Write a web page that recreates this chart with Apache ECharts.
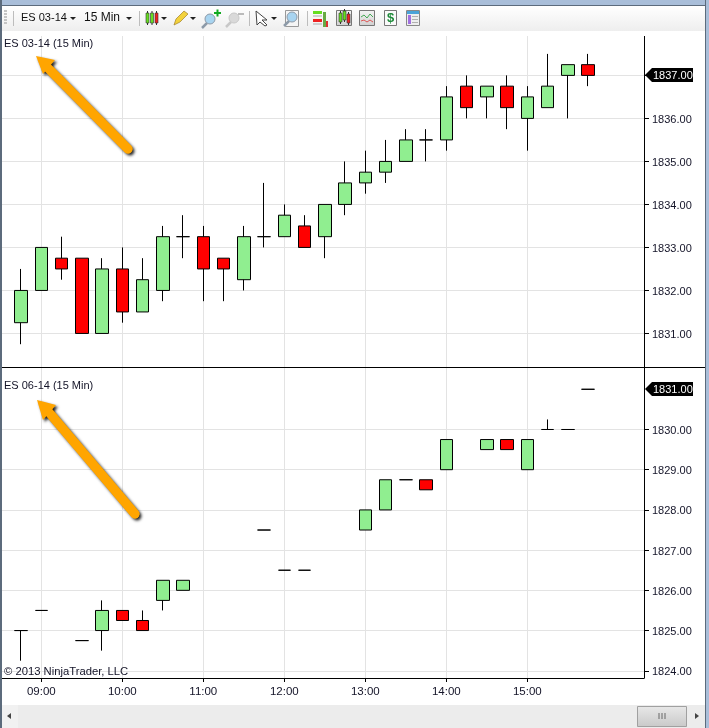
<!DOCTYPE html>
<html><head><meta charset="utf-8">
<style>html,body{margin:0;padding:0;background:#fff;overflow:hidden}#c{width:709px;height:728px}</style>
<script src="https://cdn.jsdelivr.net/npm/echarts@6/dist/echarts.min.js"></script>
</head><body><div id="c"></div>
<script>
const times = ['08:45','09:00','09:15','09:30','09:45','10:00','10:15','10:30','10:45','11:00','11:15','11:30','11:45','12:00','12:15','12:30','12:45','13:00','13:15','13:30','13:45','14:00','14:15','14:30','14:45','15:00','15:15','15:30','15:45'];
const open1 = [1831.25,1832,1832.75,1832.75,1831,1832.5,1831.5,1832,1833.25,1833.25,1832.75,1832.25,1833.25,1833.25,1833.5,1833.25,1834,1834.5,1834.75,1835,1835.5,1835.5,1836.75,1836.5,1836.75,1836,1836.25,1837,1837.25];
const close1 = [1832,1833,1832.5,1831,1832.5,1831.5,1832.25,1833.25,1833.25,1832.5,1832.5,1833.25,1833.25,1833.75,1833,1834,1834.5,1834.75,1835,1835.5,1835.5,1836.5,1836.25,1836.75,1836.25,1836.5,1836.75,1837.25,1837];
const low1 = [1830.75,1832,1832.25,1831,1831,1831.25,1831.5,1831.75,1832.75,1831.75,1831.75,1832,1833,1833.25,1833,1832.75,1833.75,1834.25,1834.5,1835,1835,1835.25,1836,1836,1835.75,1835.25,1836.25,1836,1836.75];
const high1 = [1832.5,1833,1833.25,1832.75,1832.75,1833,1832.75,1833.5,1833.75,1833.5,1832.75,1833.5,1834.5,1834,1833.75,1834,1835,1835.25,1835.5,1835.75,1835.75,1836.75,1837,1836.75,1837,1836.75,1837.5,1837.25,1837.5];
const open2 = [1825,1825.5,null,1824.75,1825,1825.5,1825.25,1825.75,1826,null,null,null,1827.5,1826.5,1826.5,null,null,1827.5,1828,1828.75,1828.75,1829,null,1829.5,1829.75,1829,1830,1830,1831];
const close2 = [1825,1825.5,null,1824.75,1825.5,1825.25,1825,1826.25,1826.25,null,null,null,1827.5,1826.5,1826.5,null,null,1828,1828.75,1828.75,1828.5,1829.75,null,1829.75,1829.5,1829.75,1830,1830,1831];
const low2 = [1824.25,1825.5,null,1824.75,1824.5,1825.25,1825,1825.5,1826,null,null,null,1827.5,1826.5,1826.5,null,null,1827.5,1828,1828.75,1828.5,1829,null,1829.5,1829.5,1829,1830,1830,1831];
const high2 = [1825,1825.5,null,1824.75,1825.75,1825.5,1825.5,1826.25,1826.25,null,null,null,1827.5,1826.5,1826.5,null,null,1828,1828.75,1828.75,1828.75,1829.75,null,1829.75,1829.75,1829.75,1830.25,1830,1831];
const timeTicks = ['09:00','10:00','11:00','12:00','13:00','14:00','15:00'];
const yTicks1 = [1831,1832,1833,1834,1835,1836,1837];
const yLabels1 = [1831,1832,1833,1834,1835,1836];
const yTicks2 = [1824,1825,1826,1827,1828,1829,1830];
const last1 = 1837, last2 = 1831;
const title1 = 'ES 03-14 (15 Min)', title2 = 'ES 06-14 (15 Min)';
const copyright = '© 2013 NinjaTrader, LLC';

const FONT = '"Liberation Sans", Arial, sans-serif';
const toMin = s => { const p = s.split(':'); return +p[0]*60 + +p[1]; };
const toLabel = m => String(Math.floor(m/60)).padStart(2,'0') + ':' + String(Math.round(m%60)).padStart(2,'0');
const build = (o,c,l,h) => times.map((t,i)=> o[i]===null ? null : [toMin(t),o[i],c[i],l[i],h[i]]).filter(Boolean);
const GRID = '#e3e3e3';
const xAxis = (idx, show) => ({
  type:'value', gridIndex:idx, min:510.89, max:986.44, scale:true,
  axisLine:{show:true,onZero:false,lineStyle:{color:'#000',width:1}},
  axisTick:{show:show,length:4,customValues:timeTicks.map(toMin),lineStyle:{color:'#000'}},
  axisLabel:{show:show,customValues:timeTicks.map(toMin),formatter:toLabel,color:'#141428',fontFamily:FONT,fontSize:11.5,margin:8,showMinLabel:true,showMaxLabel:true},
  splitLine:{show:true,lineStyle:{color:GRID,width:1}}
});
const yAxis = (idx,min,max,ticks,labels) => ({
  type:'value', gridIndex:idx, position:'right', min, max, scale:true,
  axisLine:{show:true,onZero:false,lineStyle:{color:'#000',width:1}},
  axisTick:{show:true,length:5,customValues:ticks,lineStyle:{color:'#000'}},
  axisLabel:{show:true,customValues:labels,formatter:v=>'{p|'+v.toFixed(2)+'}',margin:8,showMinLabel:true,showMaxLabel:true,
    rich:{p:{color:'#141428',fontFamily:FONT,fontSize:11,padding:[3,0,0,0]}}},
  splitLine:{show:true,lineStyle:{color:GRID,width:1}}
});
const candle = (idx,data) => ({
  type:'candlestick', xAxisIndex:idx, yAxisIndex:idx, data, encode:{x:0,y:[1,2,3,4]},
  barWidth:13,
  itemStyle:{color:'#90EE90',color0:'#FF0000',borderColor:'#000',borderColor0:'#000',borderColorDoji:'#000',borderWidth:1}
});

const chart = echarts.init(document.getElementById('c'),null,{renderer:'canvas'});
chart.setOption({
  animation:false, backgroundColor:'#fff',
  title:[
    {text:title1,left:4,top:38,padding:0,textStyle:{fontFamily:FONT,fontSize:11,fontWeight:'normal',color:'#141428'}},
    {text:title2,left:4,top:380,padding:0,textStyle:{fontFamily:FONT,fontSize:11,fontWeight:'normal',color:'#141428'}}
  ],
  grid:[{left:2,top:36,width:642,height:331},{left:2,top:367,width:642,height:311}],
  xAxis:[xAxis(0,false),xAxis(1,true)],
  yAxis:[yAxis(0,1830.22,1837.916,yTicks1,yLabels1),yAxis(1,1823.82,1831.554,yTicks2,yTicks2)],
  series:[candle(0,build(open1,close1,low1,high1)),candle(1,build(open2,close2,low2,high2))]
});

// Window chrome, toolbar, annotations
const g = [];
const rect=(x,y,w,h,fill,extra)=>g.push(Object.assign({type:'rect',shape:{x,y,width:w,height:h},style:{fill},silent:true,z:50},extra||{}));
const poly=(pts,fill,extra)=>g.push(Object.assign({type:'polygon',shape:{points:pts},style:{fill},silent:true,z:52},extra||{}));
const line=(x1,y1,x2,y2,stroke,w)=>g.push({type:'line',shape:{x1,y1,x2,y2},style:{stroke,lineWidth:w||1},silent:true,z:52});
const text=(x,y,t,fill,size,extra)=>g.push(Object.assign({type:'text',x,y,style:{text:t,fill,fontFamily:FONT,fontSize:size||11,verticalAlign:'middle'},silent:true,z:53},extra||{}));
const vgrad=(a,b)=>({type:'linear',x:0,y:0,x2:0,y2:1,colorStops:[{offset:0,color:a},{offset:1,color:b}]});

rect(0,0,709,5,'#a9bed9');
rect(0,5,709,1,'#5c6b7c');
rect(0,6,705,25,vgrad('#ffffff','#eeeeee'));
rect(0,31,705,5,'#ffffff');
rect(0,0,2,728,'#5c6b7c');
rect(705,0,1,728,'#5c6b7c');
rect(706,0,3,728,'#a9bed9');
rect(2,705,703,23,'#ececec');
rect(2,705,16,23,'#f1f1f1');
poly([[7,716],[11,713],[11,719]],'#444');
rect(637.5,706.5,49,20,vgrad('#e8e8e8','#c9c9c9'),{style:{fill:vgrad('#e8e8e8','#c9c9c9'),stroke:'#a0a0a0',lineWidth:1}});
[659,662,665].forEach(x=>line(x,713,x,719,'#666'));
poly([[695,713],[699,716],[695,719]],'#444');
line(2,367.5,705,367.5,'#000');

// toolbar
[10,13,16,19,22].forEach(y=>rect(4,y,3,2,'#c4c4c4'));
[13,139,249,307].forEach(x=>line(x+.5,11,x+.5,26,'#bdbdbd'));
text(21,18,'ES 03-14','#111',11);
text(84,18,'15 Min','#111',12);
[73,129,164,193,274].forEach(x=>poly([[x-3,17],[x+3,17],[x,20]],'#222'));
const mini=(x,y,h,fill)=>{line(x+1.5,y-2,x+1.5,y+h+2,'#333');rect(x,y,3,h,fill,{z:53,style:{fill,stroke:'#333',lineWidth:.6}});};
mini(146,13,10,'#66dd22');mini(150.5,13,10,'#66dd22');mini(155,13,10,'#ee2222');
// pencil
poly([[174,25],[176,19],[184,11],[188,14],[180,22]],'#f3d23c',{style:{fill:'#f3d23c',stroke:'#a0802a',lineWidth:.7}});
// magnifiers
const mag=(cx,cy,col,ring)=>{line(cx-3,cy+4,cx-8,cy+9,ring,2.5);g.push({type:'circle',shape:{cx,cy,r:5},style:{fill:col,stroke:ring,lineWidth:1},silent:true,z:53});};
mag(210,19,'#a8d4f0','#8d9aa8');rect(214,12,7,2,'#11aa22',{z:54});rect(216.5,9.5,2,7,'#11aa22',{z:54});
mag(234,18,'#d9d9d9','#c8c8c8');rect(238,13,6,2,'#bbbbbb',{z:54});
// cursor
poly([[256,11],[267,20],[262,20],[267,25],[265,26],[260,22],[257,25]],'#ffffff',{style:{fill:'#fff',stroke:'#444',lineWidth:1}});
// magnifier doc
rect(285.5,10.5,13,16,'#f5f5f5',{style:{fill:'#f5f5f5',stroke:'#999',lineWidth:1},z:52});
mag(292,17,'#a8d4f0','#8d9aa8');
// strategy icon
rect(313,11,9,3,'#66dd22');rect(313,19,9,3,'#ee2222');rect(323,12,3,15,'#66aa44');rect(326,21,2,6,'#dd3333');
[16,24].forEach(y=>line(313,y,322,y,'#aaa'));
// chart icons
const box=(x,w)=>rect(x+.5,10.5,w,15,vgrad('#f4f4f4','#cfcfcf'),{style:{fill:vgrad('#f4f4f4','#cfcfcf'),stroke:'#777',lineWidth:1},z:52});
box(336,15);mini(339,13,9,'#66dd22');mini(343,11,9,'#66dd22');mini(347,14,9,'#ee2222');
box(359,15);
g.push({type:'polyline',shape:{points:[[361,17],[364,15],[367,18],[370,14],[373,17]]},style:{stroke:'#44aa55',fill:null,lineWidth:1},silent:true,z:53});
g.push({type:'polyline',shape:{points:[[361,21],[364,20],[367,22],[370,20],[373,22]]},style:{stroke:'#dd5555',fill:null,lineWidth:1},silent:true,z:53});
rect(384.5,10.5,12,15,'#fafafa',{style:{fill:'#fafafa',stroke:'#777',lineWidth:1},z:52});
text(387,18.5,'$','#1e8a3a',13,{style:{text:'$',fill:'#1e8a3a',fontFamily:FONT,fontSize:13,fontWeight:'bold',verticalAlign:'middle'}});
rect(406.5,10.5,13,15,'#eeeeee',{style:{fill:'#eeeeee',stroke:'#888',lineWidth:1},z:52});
rect(407,11,12,3,'#4aa3d8',{z:53});rect(408,15,3,9,'#a070e0',{z:53});
[16,19,22].forEach(y=>line(412,y+.5,418,y+.5,'#b0b0b0'));

// arrows
const arrow=(tip,a,b,base,tail)=>{
  const shadow={shadowColor:'rgba(0,0,0,.85)',shadowBlur:3,shadowOffsetX:2,shadowOffsetY:2};
  g.push({type:'line',shape:{x1:base[0],y1:base[1],x2:tail[0],y2:tail[1]},style:Object.assign({stroke:'#FFA500',lineWidth:9,lineCap:'round'},shadow),silent:true,z:60});
  g.push({type:'polygon',shape:{points:[tip,a,b]},style:Object.assign({fill:'#FFA500'},shadow),silent:true,z:60});
  g.push({type:'line',shape:{x1:base[0],y1:base[1],x2:tail[0],y2:tail[1]},style:{stroke:'#FFA500',lineWidth:9,lineCap:'round'},silent:true,z:61});
};
arrow([36,56],[55,60],[43,74],[46,66],[128,149]);
arrow([37,400],[56,405],[43,420],[47,410],[135,514]);

text(4,672,copyright,'#141428',11.25);

// last-price tags positioned through the axis scale
const tag=(axisIdx,v)=>{
  const y=Math.round(chart.convertToPixel({yAxisIndex:axisIdx},v));
  poly([[645,y],[652,y-7],[693,y-7],[693,y+7],[652,y+7]],'#000',{z:70});
  text(653,y+.5,v.toFixed(2),'#fff',11,{z:71});
};
tag(0,last1);tag(1,last2);
chart.setOption({graphic:{elements:g}});
</script></body></html>
